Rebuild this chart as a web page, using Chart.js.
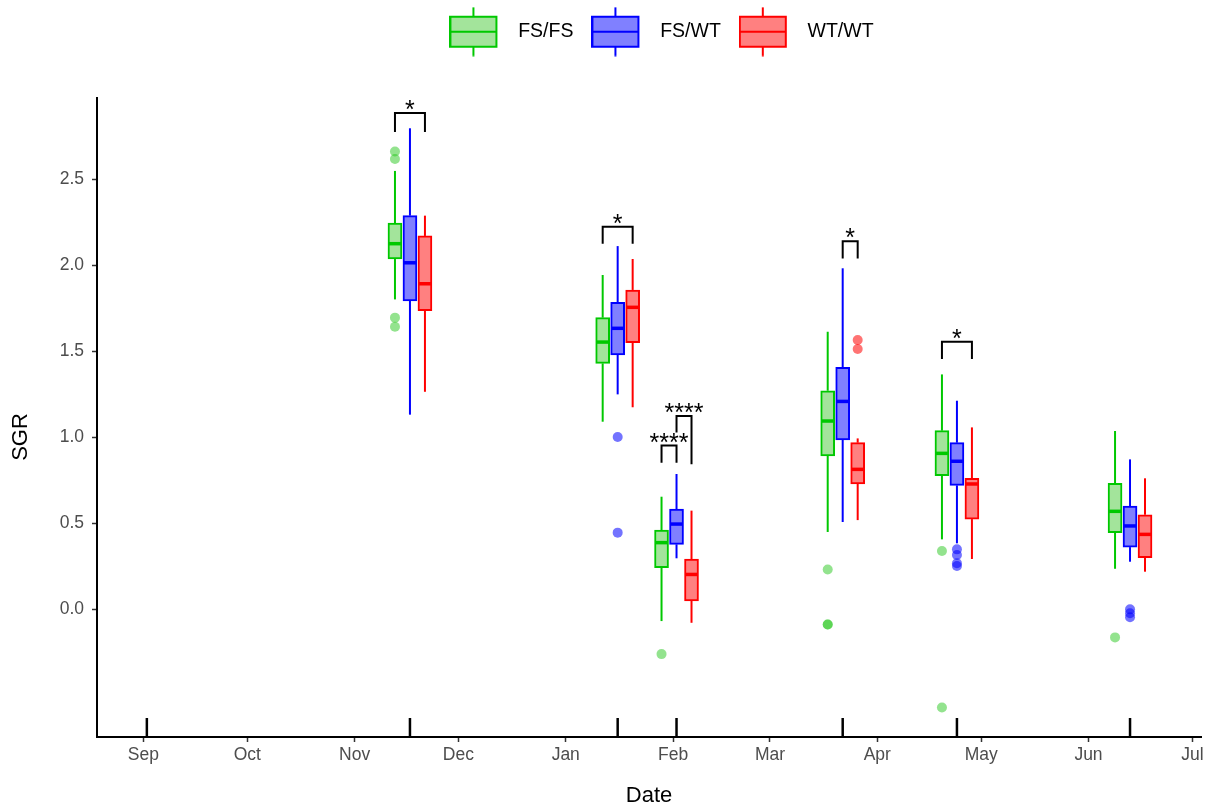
<!DOCTYPE html>
<html>
<head>
<meta charset="utf-8">
<title>SGR by genotype</title>
<script src="https://cdn.jsdelivr.net/npm/chart.js@4.4.1/dist/chart.umd.min.js"></script>
<style>
  html, body { margin: 0; padding: 0; background: #fff; }
</style>
</head>
<body>
<canvas id="sgr-chart" width="1213" height="809"></canvas>
<script>
// days counted from 1 September
const monthDays = [0, 30, 61, 91, 122, 153, 181, 212, 242, 273, 303];
const monthLabels = ["Sep", "Oct", "Nov", "Dec", "Jan", "Feb", "Mar", "Apr", "May", "Jun", "Jul"];
const samplingDays = [1, 77, 137, 154, 202, 235, 285];
const boxDays = [77, 137, 154, 202, 235, 285];
const yTicks = [0, 0.5, 1, 1.5, 2, 2.5];
const genotypes = ["FS/FS", "FS/WT", "WT/WT"];

// [lower whisker, Q1, median, Q3, upper whisker] for each box day
const fsfsBox = [
  [1.80, 2.035, 2.124, 2.244, 2.547],
  [1.089, 1.428, 1.552, 1.694, 1.942],
  [-0.07, 0.240, 0.386, 0.459, 0.653],
  [0.448, 0.890, 1.093, 1.269, 1.612],
  [0.405, 0.775, 0.905, 1.037, 1.364],
  [0.234, 0.444, 0.568, 0.731, 1.035],
];
const fswtBox = [
  [1.13, 1.791, 2.013, 2.287, 2.795],
  [1.248, 1.477, 1.632, 1.783, 2.11],
  [0.295, 0.376, 0.494, 0.581, 0.785],
  [0.506, 0.983, 1.207, 1.405, 1.981],
  [0.382, 0.719, 0.859, 0.967, 1.211],
  [0.275, 0.36, 0.483, 0.599, 0.87],
];
const wtwtBox = [
  [1.263, 1.734, 1.891, 2.169, 2.287],
  [1.173, 1.548, 1.754, 1.855, 2.035],
  [-0.08, 0.047, 0.201, 0.291, 0.572],
  [0.517, 0.727, 0.812, 0.967, 0.992],
  [0.291, 0.523, 0.727, 0.76, 1.056],
  [0.217, 0.298, 0.434, 0.548, 0.76],
];

// outliers: [day, SGR]
const fsfsOutliers = [
  [77, 2.66], [77, 2.616], [77, 1.694], [77, 1.641],
  [154, -0.262],
  [202, 0.23], [202, -0.09], [202, -0.09],
  [235, 0.337], [235, -0.572],
  [285, -0.165],
];
const fswtOutliers = [
  [137, 1.0], [137, 0.444],
  [235, 0.347], [235, 0.314], [235, 0.266], [235, 0.25],
  [285, -0.002], [285, -0.025], [285, -0.048],
];
const wtwtOutliers = [
  [202, 1.564], [202, 1.512],
];

// significance brackets: day, genotype indices, bar height, tip drops, label
const brackets = [
  { day: 77, a: 0, b: 2, top: 2.884, tipA: 0.11, tipB: 0.11, label: "*" },
  { day: 137, a: 0, b: 2, top: 2.223, tipA: 0.10, tipB: 0.10, label: "*" },
  { day: 154, a: 0, b: 1, top: 0.95, tipA: 0.10, tipB: 0.10, label: "****" },
  { day: 154, a: 1, b: 2, top: 1.122, tipA: 0.096, tipB: 0.28, label: "****" },
  { day: 202, a: 1, b: 2, top: 2.138, tipA: 0.10, tipB: 0.10, label: "*" },
  { day: 235, a: 0, b: 2, top: 1.554, tipA: 0.10, tipB: 0.10, label: "*" },
];

const boxSets = [fsfsBox, fswtBox, wtwtBox];
const outlierSets = [fsfsOutliers, fswtOutliers, wtwtOutliers];
const colours = [
  { line: "#00c800", fill: "#a3e49b", point: "rgba(40,200,30,0.5)" },
  { line: "#0000ff", fill: "#8080ff", point: "rgba(0,0,255,0.55)" },
  { line: "#ff0000", fill: "#ff8080", point: "rgba(255,0,0,0.55)" },
];
const dodge = 4.33; // days between neighbouring boxes
const fontFamily = "'Liberation Sans', Arial, Helvetica, sans-serif";

Chart.defaults.font.family = fontFamily;

// little boxplot glyph used as the legend key
function keyIcon(c) {
  const cv = document.createElement("canvas");
  cv.width = 59;
  cv.height = 50;
  const g = cv.getContext("2d");
  g.strokeStyle = c.line;
  g.lineWidth = 2;
  g.beginPath();
  g.moveTo(24, 0.5);
  g.lineTo(24, 49.5);
  g.stroke();
  g.fillStyle = c.fill;
  g.fillRect(1, 10, 46, 30);
  g.strokeRect(1, 10, 46, 30);
  g.beginPath();
  g.moveTo(1, 25);
  g.lineTo(47, 25);
  g.stroke();
  return cv;
}
const keyIcons = colours.map(keyIcon);

const boxDatasets = boxSets.map((set, g) => ({
  type: "bar",
  label: genotypes[g],
  data: set.map((s, i) => ({ x: boxDays[i] + (g - 1) * dodge, y: [s[1], s[3]] })),
  backgroundColor: colours[g].fill,
  borderColor: colours[g].line,
  borderWidth: 2,
  borderSkipped: false,
  barThickness: 14,
  grouped: false,
}));

const outlierDatasets = outlierSets.map((set, g) => ({
  type: "scatter",
  label: genotypes[g] + " outliers",
  data: set.map(p => ({ x: p[0] + (g - 1) * dodge, y: p[1] })),
  backgroundColor: colours[g].point,
  borderWidth: 0,
  pointRadius: 5,
}));

function strokeLine(ctx, x1, y1, x2, y2) {
  ctx.beginPath();
  ctx.moveTo(x1, y1);
  ctx.lineTo(x2, y2);
  ctx.stroke();
}

const boxExtras = {
  id: "boxExtras",
  beforeInit(chart) {
    // fixed band for the legend above the panel
    const legend = chart.legend;
    if (legend) {
      const fit = legend.fit;
      legend.fit = function () {
        fit.call(this);
        this.height = 94;
      };
    }
  },
  afterLayout(chart) {
    const legend = chart.legend;
    if (legend) {
      legend.left += 12.5;
      legend.right += 12.5;
    }
  },
  afterDatasetsDraw(chart) {
    const { ctx, chartArea, scales: { x, y } } = chart;
    ctx.save();
    ctx.lineCap = "butt";

    // whiskers and medians
    boxSets.forEach((set, g) => {
      ctx.strokeStyle = colours[g].line;
      set.forEach((s, i) => {
        const px = x.getPixelForValue(boxDays[i] + (g - 1) * dodge);
        ctx.lineWidth = 2;
        strokeLine(ctx, px, y.getPixelForValue(s[4]), px, y.getPixelForValue(s[3]));
        strokeLine(ctx, px, y.getPixelForValue(s[1]), px, y.getPixelForValue(s[0]));
        ctx.lineWidth = 3.5;
        const my = y.getPixelForValue(s[2]);
        strokeLine(ctx, px - 6, my, px + 6, my);
      });
    });

    // sampling dates on the date axis
    ctx.strokeStyle = "#000";
    ctx.lineWidth = 2.5;
    samplingDays.forEach(d => {
      const px = x.getPixelForValue(d);
      strokeLine(ctx, px, chartArea.bottom, px, chartArea.bottom - 19);
    });

    // significance brackets
    ctx.lineWidth = 2;
    ctx.fillStyle = "#000";
    ctx.font = "25px " + fontFamily;
    ctx.textAlign = "center";
    ctx.textBaseline = "alphabetic";
    brackets.forEach(b => {
      const xa = x.getPixelForValue(b.day + (b.a - 1) * dodge);
      const xb = x.getPixelForValue(b.day + (b.b - 1) * dodge);
      const yt = y.getPixelForValue(b.top);
      ctx.beginPath();
      ctx.moveTo(xa, y.getPixelForValue(b.top - b.tipA));
      ctx.lineTo(xa, yt);
      ctx.lineTo(xb, yt);
      ctx.lineTo(xb, y.getPixelForValue(b.top - b.tipB));
      ctx.stroke();
      ctx.fillText(b.label, (xa + xb) / 2, yt + 5);
    });

    // y axis title
    ctx.font = "22px " + fontFamily;
    ctx.textBaseline = "middle";
    ctx.translate(21, 437);
    ctx.rotate(-Math.PI / 2);
    ctx.fillText("SGR", 0, 0);
    ctx.restore();
  },
};

const ctx = document.querySelector("#sgr-chart").getContext("2d");

const sgrChart = new Chart(ctx, {
  type: "bar",
  data: {
    datasets: [...boxDatasets, ...outlierDatasets],
  },
  options: {
    responsive: false,
    animation: false,
    layout: { padding: { top: 4, right: 12, bottom: 0, left: 0 } },
    plugins: {
      tooltip: { enabled: false },
      legend: {
        position: "top",
        fullSize: false,
        labels: {
          usePointStyle: true,
          pointStyleWidth: 59,
          padding: 18,
          color: "#000",
          font: { size: 19.5 },
          generateLabels: () => genotypes.map((name, g) => ({
            text: name,
            pointStyle: keyIcons[g],
            fillStyle: colours[g].fill,
            strokeStyle: colours[g].line,
            lineWidth: 0,
            hidden: false,
            datasetIndex: g,
          })),
        },
      },
    },
    scales: {
      x: {
        type: "linear",
        min: -13.4,
        max: 305.5,
        offset: false,
        afterFit(scale) { scale.height = 72; },
        afterBuildTicks(scale) {
          scale.ticks = monthDays.map(v => ({ value: v }));
        },
        ticks: {
          autoSkip: false,
          maxRotation: 0,
          padding: 3,
          color: "#4d4d4d",
          font: { size: 17.5 },
          callback: (value, index) => monthLabels[index],
        },
        grid: {
          offset: false,
          drawOnChartArea: false,
          drawTicks: true,
          tickLength: 5,
          tickColor: "#333",
          tickWidth: 1.5,
        },
        border: { display: true, color: "#000", width: 2 },
        title: {
          display: true,
          text: "Date",
          color: "#000",
          font: { size: 22 },
          padding: { top: 0, bottom: 0 },
        },
      },
      y: {
        type: "linear",
        min: -0.744,
        max: 2.971,
        afterFit(scale) { scale.width = 97; },
        afterBuildTicks(scale) {
          scale.ticks = yTicks.map(v => ({ value: v }));
        },
        ticks: {
          padding: 8,
          color: "#4d4d4d",
          font: { size: 17.5 },
          callback: value => value.toFixed(1),
        },
        grid: {
          drawOnChartArea: false,
          drawTicks: true,
          tickLength: 5,
          tickColor: "#333",
          tickWidth: 1.5,
        },
        border: { display: true, color: "#000", width: 2 },
        title: { display: false },
      },
    },
  },
  plugins: [boxExtras],
});
</script>
</body>
</html>
